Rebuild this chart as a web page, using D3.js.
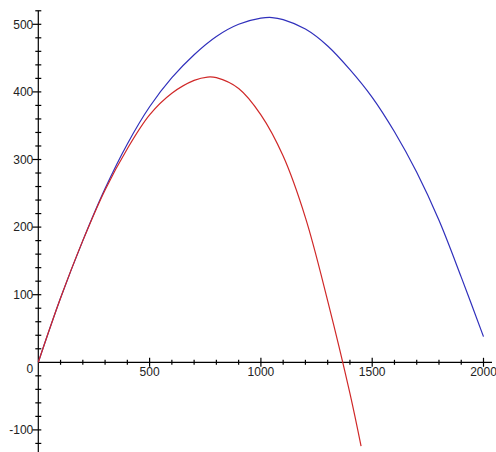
<!DOCTYPE html>
<html>
<head>
<meta charset="utf-8">
<script src="https://cdn.jsdelivr.net/npm/d3@7"></script>
<style>
  html, body { margin: 0; padding: 0; background: #fff; }
  svg { display: block; }
  .lbl { font-family: "Liberation Sans", Arial, sans-serif; font-size: 12px; fill: #222; }
</style>
</head>
<body>
<svg id="chart" width="496" height="452"></svg>
<script>
// horizontal distance values (shared sample points)
const blueX = [0, 100, 200, 300, 400, 500, 600, 700, 800, 900, 1000, 1050, 1100, 1200, 1300, 1400, 1500, 1600, 1700, 1800, 1900, 2000];
const blueY = [0, 95, 180, 257, 323, 378, 421, 455, 482, 500, 509, 510, 507, 493, 468, 433, 392, 341, 281, 210, 126, 38];

const redX = [0, 100, 200, 300, 400, 500, 600, 700, 760, 800, 900, 1000, 1100, 1200, 1300, 1400, 1450];
const redY = [0, 95, 180, 255, 316, 366, 398, 417, 422, 421, 405, 366, 305, 214, 91, -46, -124];

const xMajor = [500, 1000, 1500, 2000];
const yMajor = [-100, 100, 200, 300, 400, 500];

const svg = d3.select('#chart');

const x = d3.scaleLinear().domain([0, 2000]).range([38.3, 483.5]);
const y = d3.scaleLinear().domain([0, 500]).range([362.3, 24.3]);

// axes lines
const axes = svg.append('g').attr('stroke', '#000').attr('stroke-width', 1.2);
axes.append('line')
  .attr('x1', x(0)).attr('x2', 492)
  .attr('y1', y(0)).attr('y2', y(0));
axes.append('line')
  .attr('x1', x(0)).attr('x2', x(0))
  .attr('y1', y(520)).attr('y2', 452);

// x ticks: minor every 100, major every 500
d3.range(100, 2001, 100).forEach(v => {
  const major = v % 500 === 0;
  axes.append('line')
    .attr('x1', x(v)).attr('x2', x(v))
    .attr('y1', y(0) - (major ? 4.5 : 2.5))
    .attr('y2', y(0) + (major ? 4.5 : 2.5));
});

// y ticks: minor every 20, major every 100
d3.range(-120, 521, 20).forEach(v => {
  if (v === 0) return;
  const major = v % 100 === 0;
  axes.append('line')
    .attr('x1', x(0) - (major ? 6 : 3)).attr('x2', x(0) + 3)
    .attr('y1', y(v)).attr('y2', y(v));
});

// labels
svg.append('g').selectAll('text')
  .data(xMajor)
  .join('text')
  .attr('class', 'lbl')
  .attr('x', d => x(d))
  .attr('y', y(0) + 14)
  .attr('text-anchor', 'middle')
  .text(d => d);

svg.append('g').selectAll('text')
  .data(yMajor)
  .join('text')
  .attr('class', 'lbl')
  .attr('x', x(0) - 5)
  .attr('y', d => y(d) + 4.3)
  .attr('text-anchor', 'end')
  .text(d => d);

svg.append('text')
  .attr('class', 'lbl')
  .attr('x', x(0) - 5)
  .attr('y', y(0) + 11)
  .attr('text-anchor', 'end')
  .text('0');

// curves
const line = d3.line()
  .x(d => x(d[0]))
  .y(d => y(d[1]))
  .curve(d3.curveCatmullRom.alpha(0.5));

svg.append('path')
  .datum(d3.zip(blueX, blueY))
  .attr('fill', 'none')
  .attr('stroke', '#3030bc')
  .attr('stroke-width', 1.2)
  .attr('d', line);

svg.append('path')
  .datum(d3.zip(redX, redY))
  .attr('fill', 'none')
  .attr('stroke', '#d02828')
  .attr('stroke-width', 1.2)
  .attr('d', line);
</script>
</body>
</html>
